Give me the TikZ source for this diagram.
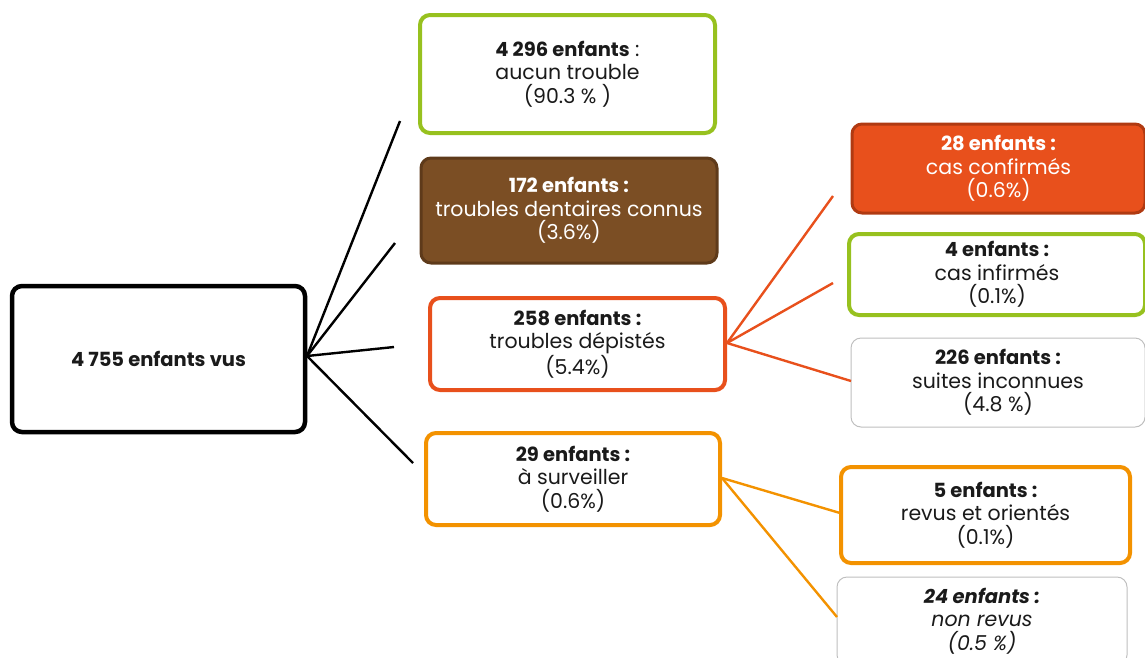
\documentclass[tikz,border=0pt]{standalone}
\usepackage{fontspec}
\setmainfont{Poppins}
\definecolor{cgreen}{HTML}{97C11F}
\definecolor{cbrown}{HTML}{7B4E24}
\definecolor{cbrownd}{HTML}{5E3A1A}
\definecolor{cred}{HTML}{E8501C}
\definecolor{credd}{HTML}{B03A12}
\definecolor{corange}{HTML}{F39200}
\definecolor{cgrey}{HTML}{BFBFBF}
\definecolor{ctext}{HTML}{1A1A1A}
\newcommand\myhdr[1]{{\fontsize{19.5}{23.5}\selectfont\bfseries #1}}
\tikzset{
  box/.style={rectangle, rounded corners=10, align=center, inner sep=0pt, text=ctext,
    font=\fontsize{20.5}{23.5}\selectfont},
  rootbox/.style={box, draw=black, line width=4.5},
  greenbox/.style={box, draw=cgreen, line width=4},
  brownbox/.style={box, draw=cbrownd, fill=cbrown, line width=3, text=white},
  redbox/.style={box, draw=cred, line width=4},
  redfill/.style={box, draw=credd, fill=cred, line width=3, text=white},
  orangebox/.style={box, draw=corange, line width=4},
  greybox/.style={box, draw=cgrey, line width=1},
  blackline/.style={line width=2.4, black},
  redline/.style={line width=2.4, cred},
  orangeline/.style={line width=2.4, corange},
}
\begin{document}
\begin{tikzpicture}[x=1pt,y=-1pt]
\useasboundingbox (0,0) rectangle (1145,657);
\node[rootbox, minimum width=293, minimum height=146] (root) at (158.5,359) {\myhdr{4 755 enfants vus}};
\node[greenbox, minimum width=295, minimum height=118] (aucun) at (567.5,74) {\myhdr{4 296 enfants} :\\aucun trouble\\(90.3 \% )};
\node[brownbox, minimum width=296, minimum height=105] (dent) at (569,210.5) {\myhdr{172 enfants :}\\troubles dentaires connus\\(3.6\%)};
\node[redbox, minimum width=295, minimum height=92] (dep) at (577.5,344) {\myhdr{258 enfants :}\\troubles dépistés\\(5.4\%)};
\node[orangebox, minimum width=294, minimum height=92] (surv) at (573,479) {\myhdr{29 enfants :}\\à surveiller\\(0.6\%)};
\node[redfill, minimum width=293, minimum height=89] (conf) at (998.5,168.5) {\myhdr{28 enfants :}\\cas confirmés\\(0.6\%)};
\node[greenbox, minimum width=296, minimum height=81] (inf) at (997,274.5) {\myhdr{4 enfants :}\\cas infirmés\\(0.1\%)};
\node[greybox, minimum width=294, minimum height=89] (inc) at (998,382.5) {\myhdr{226 enfants :}\\suites inconnues\\(4.8 \%)};
\node[orangebox, minimum width=289, minimum height=96] (revus) at (985.5,515) {\myhdr{5 enfants :}\\revus et orientés\\(0.1\%)};
\node[greybox, minimum width=290, minimum height=88, font=\fontsize{20.5}{23.5}\selectfont\itshape] (nonrevus) at (982,621) {\myhdr{24 enfants :}\\non revus\\(0.5 \%)};

\coordinate (r0) at (307,356);
\coordinate (e1) at (400,121);
\coordinate (e2) at (395,243);
\coordinate (e3) at (394,347);
\coordinate (e4) at (413,463);
\draw[blackline] (r0) -- (e1);
\draw[blackline] (r0) -- (e2);
\draw[blackline] (r0) -- (e3);
\draw[blackline] (r0) -- (e4);

\coordinate (d0) at (727,343);
\coordinate (f1) at (833,196);
\coordinate (f2) at (833,283);
\coordinate (f3) at (851,381);
\draw[redline] (d0) -- (f1);
\draw[redline] (d0) -- (f2);
\draw[redline] (d0) -- (f3);

\coordinate (s0) at (722,478);
\coordinate (g1) at (840,513);
\coordinate (g2) at (837,617);
\draw[orangeline] (s0) -- (g1);
\draw[orangeline] (s0) -- (g2);
\end{tikzpicture}
\end{document}
